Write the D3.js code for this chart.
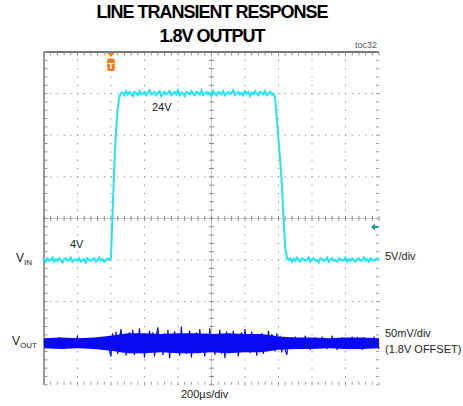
<!DOCTYPE html>
<html>
<head>
<meta charset="utf-8">
<script src="https://cdn.jsdelivr.net/npm/d3@7"></script>
<style>
  body { margin: 0; background: #fff; }
  text { font-family: "Liberation Sans", Arial, sans-serif; }
</style>
</head>
<body>
<div id="chart"></div>
<script>
var titleLines = ["LINE TRANSIENT RESPONSE", "1.8V OUTPUT"];
var timeStart = -400, timeStep = 10;          // µs, one sample every 10 µs
var timeMajor = d3.range(-400, 1601, 200);    // 200 µs/div
var timeMinor = d3.range(-400, 1601, 40);

// VIN (volts), 5V/div
var vinBefore = [4.1,3.8,4.2,3.9,4.0,4.3,3.8,4.1,3.9,4.2, 4.0,3.7,4.1,4.2,3.9,4.0,4.3,3.8,4.0,4.1,
                 3.9,4.2,3.8,4.0,4.1,3.7,4.2,4.0,3.9,4.1, 4.2,3.8,4.0,4.3,3.9,4.1,3.8,4.0,4.2,4.0];
var vinRise = [4.3,10.0,15.5,19.5,22.2,23.6,24.1];
var vinHigh = [24.1,23.8,24.3,23.9,24.2,24.0,23.7,24.2,24.1,23.8, 24.3,23.9,24.0,24.2,23.8,24.1,24.4,23.9,24.0,24.2,
               23.8,24.1,24.3,23.7,24.0,24.2,23.9,24.1,24.3,23.8, 24.0,24.2,23.9,24.4,23.8,24.1,24.0,23.7,24.2,24.1,
               23.9,24.3,24.0,23.8,24.2,24.1,23.9,24.4,23.8,24.0, 24.2,23.9,24.1,23.7,24.3,24.0,23.8,24.2,24.1,23.9,
               24.3,23.8,24.0,24.2,23.9,24.1,24.4,23.8,24.0,24.2, 23.9,24.1,23.8,24.3,24.0,24.2,23.7,24.1,23.9,24.3,
               24.0,23.8,24.2,24.1,23.9,24.3,23.8,24.0,24.2,23.9];
var vinFall = [24.0,23.4,21.0,18.5,16.0,13.0,9.0,5.5,4.3];
var vinAfter = [4.0,4.2,3.8,4.1,3.9,4.3,4.0,3.8,4.2,4.1, 3.9,4.0,4.3,3.8,4.1,4.2,3.9,4.0,3.7,4.2,
                4.1,3.9,4.0,4.3,3.8,4.1,4.2,3.9,4.0,3.8, 4.2,4.1,3.9,4.0,4.3,3.8,4.1,3.9,4.2,4.0,
                3.8,4.1,4.2,3.9,4.0,4.3,3.9,4.1,3.8,4.2, 4.0,3.9,4.1,4.2,4.0];

// VOUT deviation (mV) around the 1.8V offset, 50mV/div
var voutBefore = [3,-5,6,-2,4,-6,1,5,-4,7, -3,2,-7,5,-1,6,-5,3,-2,4,
                  8,-4,1,-6,5,-3,6,-1,-5,3, 2,-6,4,-3,7,-2,5,-4,1,-8];
var voutHigh = [-16,12,-9,14,-13,6,17,-11,9,-15, 4,13,-8,16,-14,10,-6,18,-12,7,
                -17,11,-4,15,-10,13,-16,8,19,-9, 5,-14,12,-7,16,-18,9,-5,14,-11,
                7,-15,20,-8,11,-13,6,15,-17,10, -6,13,-12,17,-9,4,-16,12,-10,18,
                -7,9,-14,11,-5,16,-13,8,-18,14, -4,12,-11,15,-8,10,-16,6,13,-10,
                17,-7,9,-12,14,-6,11,-15,8,-9, 12,-13,7,-10,15,-8,10];
var voutAfter = [8,-10,12,-7,9,-11,6,-8,-14,5, -6,7,-4,8,-5,3,-7,6,-3,9,
                 -6,4,-8,5,-2,7,-5,3,-6,8, -4,6,-7,2,-5,9,-3,5,-8,4,
                 -6,7,-2,5,-7,3,-4,8,-6,2, 6,-5,4,-8,7,-3,5,-6,2,-4,
                 8,-5,3,-7];
// half-width of the solid core of the VOUT band (mV), every 100 µs
var voutCoreStep = 100;
var voutCore = [6,7,6,7,9,12,12,11,12,12,11,12,11,11,8,7,7,6,7,7,6];

var vin = vinBefore.concat(vinRise, vinHigh, vinFall, vinAfter);
var vout = voutBefore.concat(voutHigh, voutAfter);

// ---- layout ----
var svg = d3.select("#chart").append("svg")
    .attr("width", 463)
    .attr("height", 406);

var x = d3.scaleLinear().domain([-400, 1600]).range([44, 379]);
var yDiv = d3.scaleLinear().domain([0, 8]).range([52, 384.8]);     // vertical divisions
var yIn = d3.scaleLinear().domain([4, 24]).range([yDiv(5), yDiv(1)]);
var yOut = d3.scaleLinear().domain([-50, 50]).range([yDiv(8), yDiv(6)]);
var divMinor = d3.range(0, 8.01, 0.2);

var orange = "#f07a1c", cyan = "#1fe6f2", blue = "#0a0af5";

// title
svg.selectAll(".title")
    .data(titleLines)
    .enter()
    .append("text")
    .attr("x", 212)
    .attr("y", (d, i) => 18 + i * 24)
    .attr("text-anchor", "middle")
    .style("font-size", "18px")
    .style("font-weight", "bold")
    .style("letter-spacing", "-1px")
    .text(d => d);

svg.append("text")
    .attr("x", 377).attr("y", 48)
    .attr("text-anchor", "end")
    .style("font-size", "9px")
    .style("fill", "#555")
    .text("toc32");

var grid = svg.append("g");

// dotted division lines
timeMajor.filter(t => t !== -400 && t !== 600 && t !== 1600).forEach(function (t) {
    grid.selectAll(null)
        .data(divMinor)
        .enter()
        .append("rect")
        .attr("x", x(t) - 0.5).attr("y", d => yDiv(d) - 0.5)
        .attr("width", 1).attr("height", 1.2)
        .attr("fill", "#8a8a8a");
});
[1, 2, 3, 5, 6, 7].forEach(function (k) {
    grid.selectAll(null)
        .data(timeMinor)
        .enter()
        .append("rect")
        .attr("x", d => x(d) - 0.5).attr("y", yDiv(k) - 0.5)
        .attr("width", 1.2).attr("height", 1)
        .attr("fill", "#8a8a8a");
});

// centre axes with ticks
grid.append("line")
    .attr("x1", x(-400)).attr("x2", x(1600))
    .attr("y1", yDiv(4)).attr("y2", yDiv(4))
    .attr("stroke", "#c8c8c8");
grid.append("line")
    .attr("x1", x(600)).attr("x2", x(600))
    .attr("y1", yDiv(0)).attr("y2", yDiv(8))
    .attr("stroke", "#c8c8c8");
grid.selectAll(null)
    .data(timeMinor)
    .enter()
    .append("line")
    .attr("x1", d => x(d)).attr("x2", d => x(d))
    .attr("y1", yDiv(4) - 2.5).attr("y2", yDiv(4) + 2.5)
    .attr("stroke", "#8a8a8a");
grid.selectAll(null)
    .data(divMinor)
    .enter()
    .append("line")
    .attr("x1", x(600) - 2.5).attr("x2", x(600) + 2.5)
    .attr("y1", d => yDiv(d)).attr("y2", d => yDiv(d))
    .attr("stroke", "#8a8a8a");

// border: solid top and left, ticks on all sides
grid.append("line")
    .attr("x1", x(-400)).attr("x2", x(1600))
    .attr("y1", yDiv(0)).attr("y2", yDiv(0))
    .attr("stroke", "#777").attr("stroke-width", 2);
grid.append("line")
    .attr("x1", x(-400)).attr("x2", x(-400))
    .attr("y1", yDiv(0)).attr("y2", yDiv(8))
    .attr("stroke", "#777").attr("stroke-width", 1.5);
grid.selectAll(null)
    .data(timeMinor)
    .enter()
    .append("line")
    .attr("x1", d => x(d)).attr("x2", d => x(d))
    .attr("y1", yDiv(0)).attr("y2", yDiv(0) + 3.5)
    .attr("stroke", "#8a8a8a");
grid.selectAll(null)
    .data(timeMinor)
    .enter()
    .append("line")
    .attr("x1", d => x(d)).attr("x2", d => x(d))
    .attr("y1", yDiv(8) - 3).attr("y2", yDiv(8))
    .attr("stroke", "#9a9a9a");
grid.selectAll(null)
    .data(divMinor)
    .enter()
    .append("line")
    .attr("x1", x(-400)).attr("x2", x(-400) + 3.5)
    .attr("y1", d => yDiv(d)).attr("y2", d => yDiv(d))
    .attr("stroke", "#8a8a8a");
grid.selectAll(null)
    .data(divMinor)
    .enter()
    .append("line")
    .attr("x1", x(1600) - 3).attr("x2", x(1600))
    .attr("y1", d => yDiv(d)).attr("y2", d => yDiv(d))
    .attr("stroke", "#9a9a9a");

// traces
svg.append("path")
    .datum(voutCore)
    .attr("fill", blue)
    .attr("d", d3.area()
        .x((d, i) => x(timeStart + i * voutCoreStep))
        .y0(d => yOut(-d))
        .y1(d => yOut(d)));

svg.append("path")
    .datum(vout)
    .attr("fill", "none")
    .attr("stroke", blue)
    .attr("stroke-width", 1.2)
    .attr("d", d3.line()
        .x((d, i) => x(timeStart + i * timeStep))
        .y(d => yOut(d)));

svg.append("path")
    .datum(vin)
    .attr("fill", "none")
    .attr("stroke", cyan)
    .attr("stroke-width", 2)
    .attr("d", d3.line()
        .x((d, i) => x(timeStart + i * timeStep))
        .y(d => yIn(d)));

// trigger marker
var trig = svg.append("g").attr("transform", `translate(${x(0)},${yDiv(0)})`);
trig.append("path").attr("d", "M-3.5,1 L3.5,1 L0,5 Z").attr("fill", orange);
trig.append("rect")
    .attr("x", -3.8).attr("y", 6.5)
    .attr("width", 7.6).attr("height", 12.5)
    .attr("rx", 2)
    .attr("fill", orange);
trig.append("text")
    .attr("x", 0).attr("y", 16.5)
    .attr("text-anchor", "middle")
    .style("font-size", "9px")
    .style("font-weight", "bold")
    .style("fill", "#fff")
    .text("T");

// channel ground marker
svg.append("path")
    .attr("d", `M${x(1600) - 8},${yDiv(4) + 8.5} l4,-3.5 l0,2.5 l3.5,0 l0,2 l-3.5,0 l0,2.5 Z`)
    .attr("fill", "#1a9a9a");

// labels
function label(xp, yp, txt, size) {
    return svg.append("text")
        .attr("x", xp).attr("y", yp)
        .style("font-size", (size || 11) + "px")
        .style("fill", "#222")
        .text(txt);
}
label(152, 111, "24V");
label(70, 248, "4V");
label(385, 260, "5V/div");
label(385, 337, "50mV/div");
label(385, 353, "(1.8V OFFSET)");
label(181, 398, "200µs/div");

var vinLbl = label(16, 262, "V", 12);
vinLbl.append("tspan").attr("dy", 3).style("font-size", "8px").text("IN");
var voutLbl = label(12, 345, "V", 12);
voutLbl.append("tspan").attr("dy", 3).style("font-size", "8px").text("OUT");
</script>
</body>
</html>
